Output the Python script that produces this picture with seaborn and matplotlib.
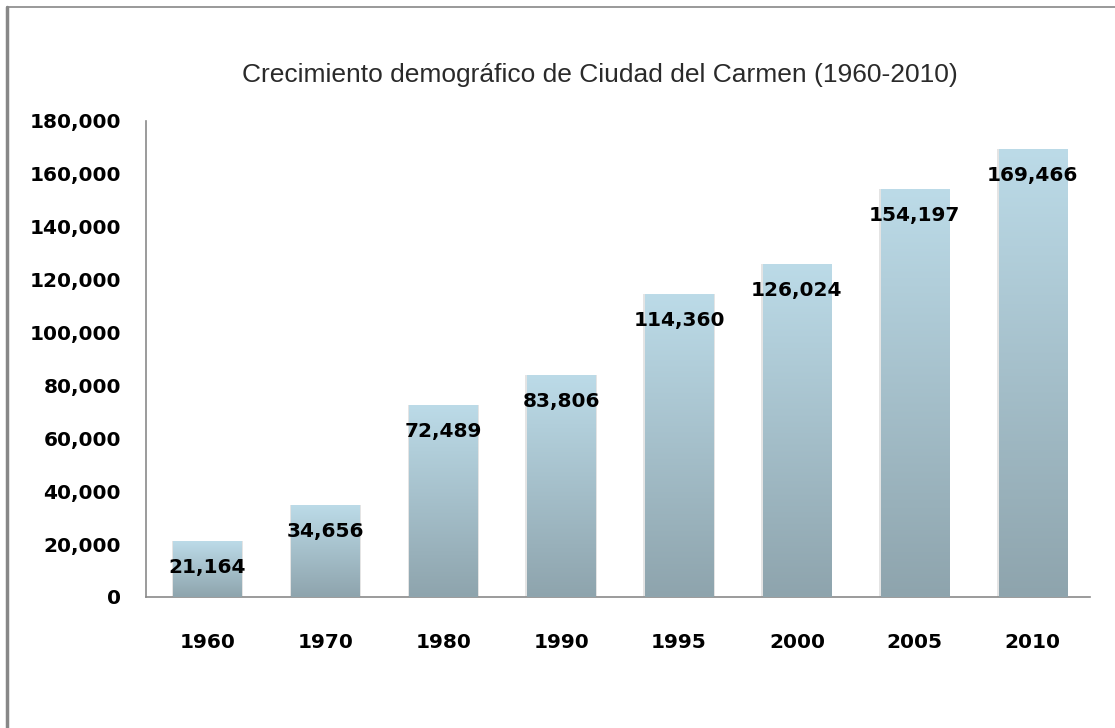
import numpy as np
import pandas as pd
import matplotlib
matplotlib.use("Agg")
import matplotlib.pyplot as plt
from matplotlib.colors import LinearSegmentedColormap
from matplotlib.lines import Line2D
import seaborn as sns

# Data
years = ["1960", "1970", "1980", "1990", "1995", "2000", "2005", "2010"]
population = [21164, 34656, 72489, 83806, 114360, 126024, 154197, 169466]
y_ticks = [0, 20000, 40000, 60000, 80000, 100000, 120000, 140000, 160000, 180000]

df = pd.DataFrame({"year": years, "population": population})

sns.set_style("white")
plt.rcParams["font.family"] = ["DejaVu Sans"]

fig = plt.figure(figsize=(11.15, 7.28), dpi=100)
ax = fig.add_axes([0.131, 0.180, 0.847, 0.654])

sns.barplot(data=df, x="year", y="population", color="#a8c6d3",
            width=0.58, ax=ax, saturation=1)

# vertical gradient on every bar: light blue on top, grey-blue at the base
cmap = LinearSegmentedColormap.from_list("bar", ["#8ea4ad", "#bcdbe8"])
grad = np.linspace(0, 1, 256).reshape(-1, 1)
for bar in ax.patches:
    x0, y0 = bar.get_x(), bar.get_y()
    w, h = bar.get_width(), bar.get_height()
    # soft shadow on the sides
    ax.add_patch(plt.Rectangle((x0 - 0.012, y0), w + 0.024, h,
                               color="#e4e4e4", zorder=1, lw=0))
    bar.set_zorder(2)
    bar.set_edgecolor("none")
    im = ax.imshow(grad, cmap=cmap, origin="lower", aspect="auto",
                   extent=[x0, x0 + w, y0, y0 + h], zorder=3)
    im.set_clip_path(bar)
    ax.text(x0 + w / 2, h - 10000, f"{int(h):,}", ha="center", va="center",
            fontsize=14.5, fontweight="bold", color="black", zorder=4)

ax.set_xlim(-0.52, 7.49)
ax.set_ylim(0, 180000)
ax.set_yticks(y_ticks)
ax.set_yticklabels([f"{v:,}" for v in y_ticks])
ax.set_xlabel("")
ax.set_ylabel("")
ax.tick_params(axis="both", length=0, labelsize=14.5, labelcolor="black")
ax.tick_params(axis="y", pad=18)
ax.tick_params(axis="x", pad=26)
for lab in ax.get_xticklabels() + ax.get_yticklabels():
    lab.set_fontweight("bold")

sns.despine(ax=ax, top=True, right=True)
for side in ["left", "bottom"]:
    ax.spines[side].set_color("#8a8a8a")
    ax.spines[side].set_linewidth(1.2)

fig.text(0.538, 0.897, "Crecimiento demográfico de Ciudad del Carmen (1960-2010)",
         ha="center", va="center", fontsize=19, color="#2a2a2a",
         family="Liberation Sans")

# outer frame (top and left edge)
fig.add_artist(Line2D([0.0063, 1.0], [0.9904, 0.9904], color="#888888", lw=1.2))
fig.add_artist(Line2D([0.0063, 0.0063], [0.0, 0.9904], color="#888888", lw=2.5))

fig.savefig("out.png", dpi=100)
